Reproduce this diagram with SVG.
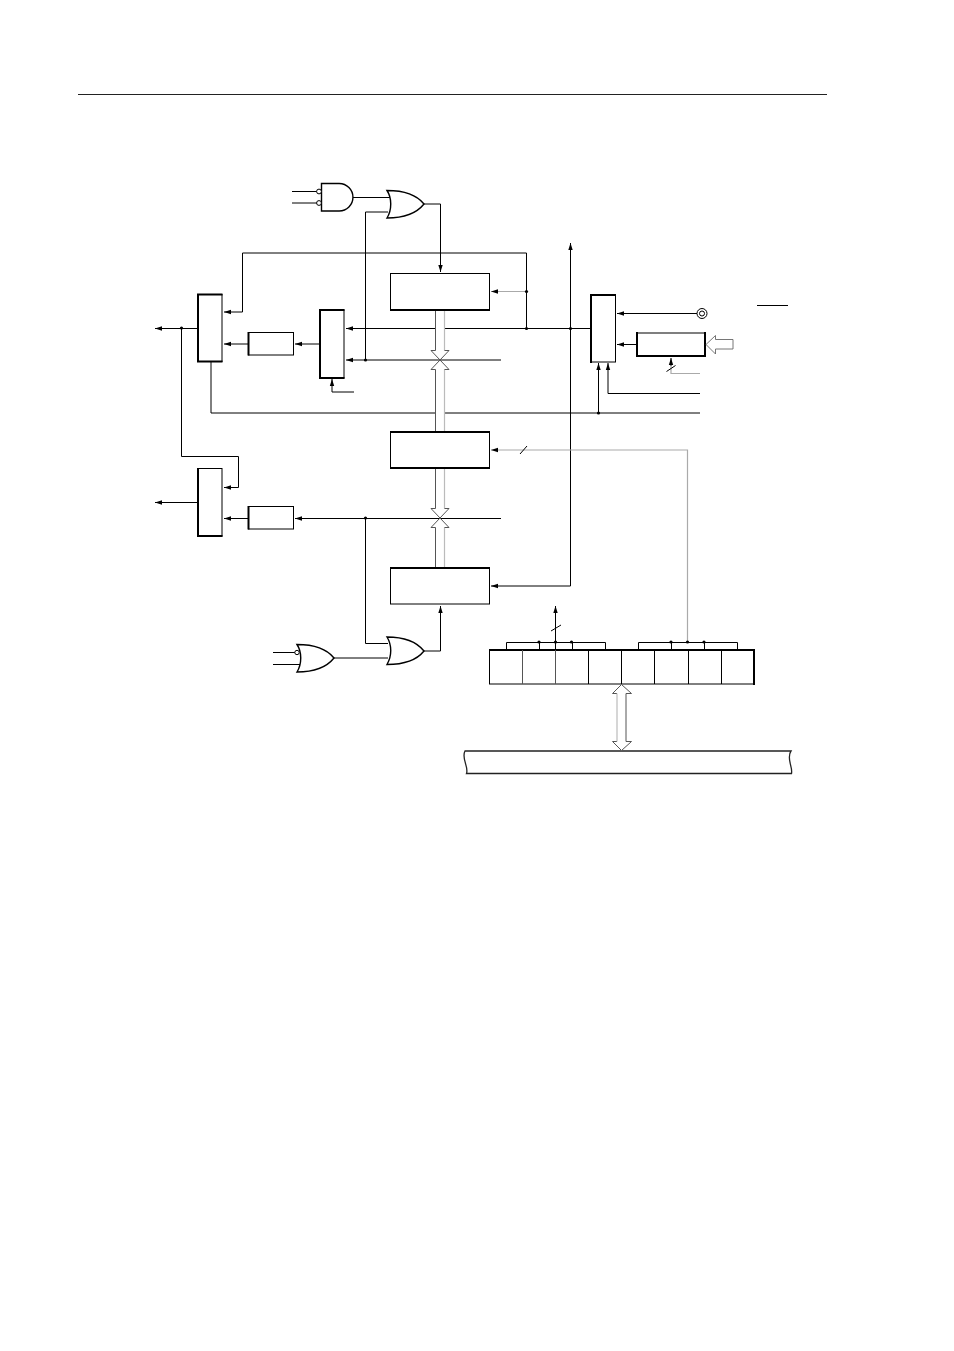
<svg xmlns="http://www.w3.org/2000/svg" width="954" height="1351" viewBox="0 0 954 1351">
<style>
.w{fill:#fff;stroke:#000;stroke-width:1}
.gate{fill:#fff;stroke:#000;stroke-width:1.400}
.e{fill:none;stroke:#000;stroke-width:2}
.l{fill:none;stroke:#000;stroke-width:1}
.g{fill:none;stroke:#aaa;stroke-width:1.200}
.d{fill:#000;stroke:none}
.bd{fill:none;stroke:#555;stroke-width:1}
.bl{fill:none;stroke:#bbb;stroke-width:1.200}
.h{fill:#fff;stroke:#666;stroke-width:.9}
</style>
<defs>
<marker id="a" markerUnits="userSpaceOnUse" markerWidth="8" markerHeight="6" refX="7" refY="3" orient="auto"><path d="M0 .8L7 3L0 5.200z" fill="#000"/></marker>
</defs>
<rect width="954" height="1351" fill="#fff"/>
<line x1="78" y1="94.500" x2="827" y2="94.500" stroke="#222" stroke-width="1"/>
<g id="connectors">
<path class="l" d="M292 191.500H317M292 203H317M353 197.500H390"/>
<path class="l" d="M424 204H440.500V272" marker-end="url(#a)"/>
<path class="l" d="M388 212H365.500V360"/>
<path class="l" d="M526.500 291.500V253H242.500V312H224" marker-end="url(#a)"/>
<path class="g" d="M526.500 291.500H491" marker-end="url(#a)"/>
<path class="l" d="M590.500 328.500H346" marker-end="url(#a)"/>
<path class="l" d="M526.500 291.500V328.500"/>
<path class="l" d="M501 360H346" marker-end="url(#a)"/>
<path class="l" d="M320 344H295" marker-end="url(#a)"/>
<path class="l" d="M248 344H224" marker-end="url(#a)"/>
<path class="l" d="M354 392H332V379" marker-end="url(#a)"/>
<path class="l" d="M198 328.500H155" marker-end="url(#a)"/>
<path class="l" d="M181.500 328.500V456.500H238.500V487.500H224" marker-end="url(#a)"/>
<path class="l" d="M211 362V413H700"/>
<path class="l" d="M198 502.500H155" marker-end="url(#a)"/>
<path class="l" d="M248 518.500H224" marker-end="url(#a)"/>
<path class="l" d="M501 518.500H295" marker-end="url(#a)"/>
<path class="l" d="M365.500 518.500V643.500H388M334 658H388"/>
<path class="l" d="M424 651H440.500V606" marker-end="url(#a)"/>
<path class="l" d="M273 652.500H297M273 664.500H300"/>
<path class="l" d="M570.500 586V243" marker-end="url(#a)"/>
<path class="l" d="M570.500 586H491" marker-end="url(#a)"/>
<path class="g" d="M687.500 642V450H491" marker-end="url(#a)"/>
<path class="l" d="M520 454L527 446"/>
<path class="l" d="M697 313.500H617" marker-end="url(#a)"/>
<path class="l" d="M637 344.500H617" marker-end="url(#a)"/>
<path class="g" d="M700 373.500H671V366"/>
<path class="l" d="M671 366V358" marker-end="url(#a)"/>
<path class="l" d="M666.500 371.500L675.500 365.500"/>
<path class="l" d="M598.500 413V363" marker-end="url(#a)"/>
<path class="l" d="M700 393.500H608V363" marker-end="url(#a)"/>
<path class="l" d="M555.500 642V606" marker-end="url(#a)"/>
<path class="l" d="M551 631L561 625"/>
<path class="l" d="M506.500 650V642.500H605.500V650M539.500 642.500V650M572.500 642.500V650M555.500 642.500V650"/>
<path class="l" d="M638.500 650V642.500H737.500V650M671.500 642.500V650M704.500 642.500V650"/>
<path fill="#fff" d="M436 310H444V350H436ZM436 370H444V432H436ZM436 468H444V508H436ZM436 528H444V568H436Z"/>
<path class="bd" d="M435.500 310V350.500H431L440 360L431 369.500H435.500V432M435.500 468V508.500H431L440 518L431 527.500H435.500V568"/>
<path class="bl" d="M444.500 310V350.500M444.500 369.500V432M444.500 468V508.500M444.500 527.500V568"/>
<path class="bd" d="M444.500 350.500H449L440 360L449 369.500H444.500M444.500 508.500H449L440 518L449 527.500H444.500"/>
<circle class="d" cx="365.500" cy="360" r="1.600"/>
<circle class="d" cx="526.500" cy="291.500" r="1.600"/>
<circle class="d" cx="526.500" cy="328.500" r="1.600"/>
<circle class="d" cx="570.500" cy="328.500" r="1.600"/>
<circle class="d" cx="181.500" cy="328" r="1.600"/>
<circle class="d" cx="365.500" cy="518" r="1.600"/>
<circle class="d" cx="598.500" cy="413" r="1.600"/>
<circle class="d" cx="539" cy="642" r="1.600"/>
<circle class="d" cx="555.500" cy="642" r="1.600"/>
<circle class="d" cx="571.500" cy="642" r="1.600"/>
<circle class="d" cx="671" cy="642" r="1.600"/>
<circle class="d" cx="687.500" cy="642" r="1.600"/>
<circle class="d" cx="704" cy="642" r="1.600"/>
<line x1="757" y1="305.500" x2="788" y2="305.500" stroke="#000" stroke-width="1"/>
</g>
<g id="and-gate"><path class="gate" d="M321.500 183.500H339.200A13.750 13.750 0 0 1 339.200 211H321.500Z"/><circle class="w" cx="319" cy="191.500" r="2.400" stroke-width=".8"/><circle class="w" cx="319" cy="203" r="2.400" stroke-width=".8"/></g>
<g id="or-gate-top"><path class="gate" d="M387 190.500C402 190.500 416 194 424 204C416 214 402 218 387 218C392 210 392 198 387 190.500Z"/></g>
<g id="or-gate-bottom"><path class="gate" d="M387 637C402 637 416 641 424 651C416 661 402 664.500 387 664.500C392 656 392 645 387 637Z"/></g>
<g id="nor-gate"><path class="gate" d="M297 644.500C312 644.500 326 648 334 658C326 668 312 672 297 672C302 664 302 652 297 644.500Z"/><circle class="w" cx="297" cy="652.500" r="2.200" stroke-width=".8"/></g>
<g id="latch-a"><rect class="w" x="390.500" y="273.500" width="99" height="36.500"/><path class="e" d="M390 310H490"/></g>
<g id="latch-b"><rect class="w" x="390.500" y="432" width="99" height="36"/><path class="e" d="M390 432H490M390 468H490"/></g>
<g id="latch-c"><rect class="w" x="390.500" y="568" width="99" height="36"/><path class="e" d="M390 568H490"/></g>
<g id="mux-a"><rect class="w" x="198" y="294.500" width="24" height="67"/><path class="e" d="M198 293.500V362.500M197 294.500H222.500M197 361.500H222.500"/></g>
<g id="mux-b"><rect class="w" x="320" y="310" width="24" height="68"/><path class="e" d="M320 309V379M319 310H344.500M319 378H344.500"/></g>
<g id="mux-c"><rect class="w" x="198" y="468.500" width="24" height="67.500"/><path class="e" d="M198 468V537M197 536H222.500"/></g>
<g id="mux-d"><rect class="w" x="591" y="295" width="24.500" height="67"/><path class="e" d="M591 294V363M590 295H616"/></g>
<g id="buffer-a"><rect class="w" x="248.500" y="332.500" width="45" height="22.500"/><path class="e" d="M248.500 332V355.500"/></g>
<g id="buffer-b"><rect class="w" x="248.500" y="506.500" width="45" height="22.500"/><path class="e" d="M248.500 506V529.500"/></g>
<g id="counter"><rect class="w" x="637" y="333" width="68" height="23"/><path class="e" d="M637 332V357M705 332V357M636 356H706"/><path class="h" d="M706 344.500L715.500 335.500V339.500H733V349H715.500V354Z"/></g>
<g id="terminal"><circle class="w" cx="702" cy="313.500" r="5" stroke-width=".8"/><circle class="w" cx="702" cy="313.500" r="2.500" stroke-width=".8"/></g>
<g id="register"><rect class="w" x="489.500" y="650" width="264.500" height="34"/><path class="e" d="M489 650H755M754 649V685"/><path class="l" d="M588.500 650V684M621.500 650V684M654.500 650V684M688.500 650V684M721.500 650V684"/><path fill="none" stroke="#555" d="M522.500 650V684M555.500 650V684"/></g>
<g id="internal-bus"><path d="M465 751H791C786 758 793 767 791.500 773.500H466.500C469 767 461 758 465 751Z" fill="#fff" stroke="#222" stroke-width="1.300"/></g>
<g id="bus-arrow"><path d="M621.500 684.500L631.500 693.500H626V741.500H631.500L621.500 750.500L612.500 741.500H617V693.500H612.500Z" fill="#fff" stroke="none"/><path class="bd" d="M621.500 684.500L631.500 693.500H626V741.500H631.500L621.500 750.500L612.500 741.500H617M617 693.500H612.500L621.500 684.500"/><path class="bl" d="M617 693.500V741.500"/></g>
</svg>
